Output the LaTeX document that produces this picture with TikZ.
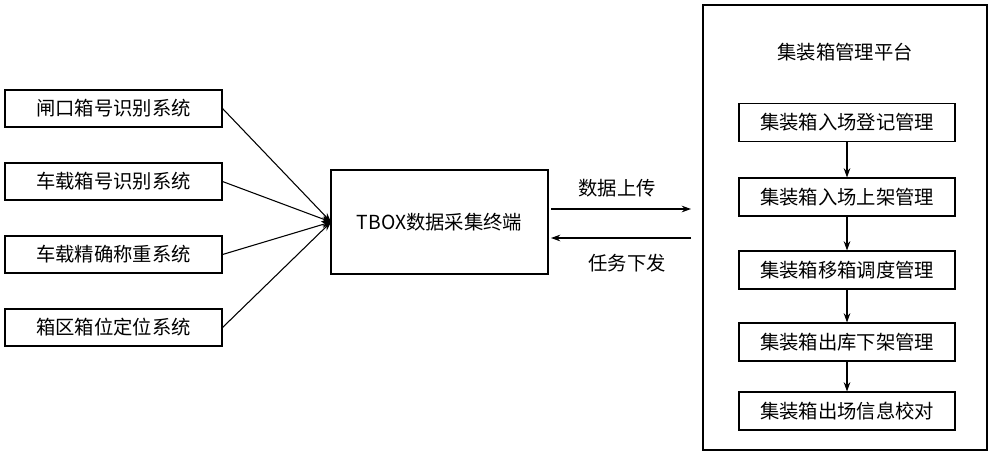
\documentclass[tikz,border=0pt]{standalone}
\usepackage{fontspec}
\setmainfont{Noto Sans CJK SC}
\usetikzlibrary{arrows.meta}
\begin{document}
\begin{tikzpicture}[x=0.75pt,y=-0.75pt,
  box/.style={draw,line width=0.8pt,fill=white,inner sep=0pt,font=\fontsize{14.5}{16}\selectfont},
  arr/.style={-{Stealth[length=7pt,width=5pt]},line width=0.8pt},
  lab/.style={font=\fontsize{14.5}{16}\selectfont}]
\useasboundingbox (0,0) rectangle (1000,462);
\fill[white] (0,0) rectangle (1000,462);
\node[box,minimum width=217*0.75pt,minimum height=37*0.75pt] (a) at (113.5,108.5) {闸口箱号识别系统};
\node[box,minimum width=217*0.75pt,minimum height=37*0.75pt] (b) at (113.5,181.5) {车载箱号识别系统};
\node[box,minimum width=217*0.75pt,minimum height=37*0.75pt] (c) at (113.5,254.5) {车载精确称重系统};
\node[box,minimum width=217*0.75pt,minimum height=37*0.75pt] (d) at (113.5,327.5) {箱区箱位定位系统};
\node[box,minimum width=217*0.75pt,minimum height=104*0.75pt] (t) at (439.5,222) {TBOX数据采集终端};
\coordinate (tin) at (331,222);
\foreach \n in {a,b,c,d} \draw[arr] (\n.east) -- (tin);
\draw[line width=0.8pt] (703,5) rectangle (987,450);
\node[lab] (title) at (845,52) {集装箱管理平台};
\coordinate (u1) at (551,209); \coordinate (u2) at (691,209);
\coordinate (l1) at (691,238); \coordinate (l2) at (551,238);
\draw[arr] (u1) -- (u2);
\draw[arr] (l1) -- (l2);
\node[lab] (up) at (617,188) {数据上传};
\node[lab] (down) at (627,263) {任务下发};
\foreach \n/\y/\t in {p1/122.5/集装箱入场登记管理,p2/197/集装箱入场上架管理,p3/270/集装箱移箱调度管理,p4/342/集装箱出库下架管理,p5/411/集装箱出场信息校对}
  \node[box,minimum width=216*0.75pt,minimum height=38*0.75pt] (\n) at (847,\y) {\t};
\draw[arr] (p1) -- (p2);
\draw[arr] (p2) -- (p3);
\draw[arr] (p3) -- (p4);
\draw[arr] (p4) -- (p5);
\end{tikzpicture}
\end{document}
